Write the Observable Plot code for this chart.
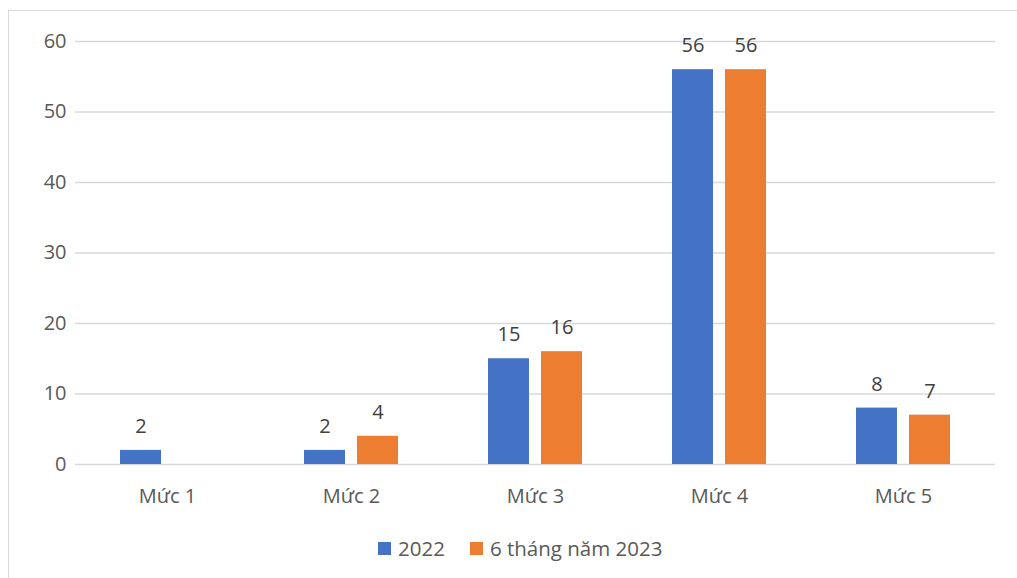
<!DOCTYPE html>
<html><head><meta charset="utf-8">
<script src="https://cdn.jsdelivr.net/npm/d3@7"></script>
<script src="https://cdn.jsdelivr.net/npm/@observablehq/plot@0.6"></script>
<style>
body{margin:0;background:#fff;font-family:"Open Sans",sans-serif;}
#wrap{position:relative;width:1017px;height:578px;overflow:hidden;}
#frame{position:absolute;left:8px;top:10px;width:1100px;height:700px;border:1.5px solid #d9d9d9;}
#chart{position:absolute;left:0;top:0;}
#legend{position:absolute;top:534px;left:378px;display:flex;align-items:center;font-size:20.5px;color:#595959;white-space:nowrap;}
.sw{display:inline-block;width:13px;height:13px;margin-right:7px;}
.item{display:flex;align-items:center;margin-right:25px;}
</style></head>
<body>
<div id="wrap"><div id="frame"></div><div id="chart"></div><div id="legend"></div></div>
<script>
const categories = ["Mức 1", "Mức 2", "Mức 3", "Mức 4", "Mức 5"];
const series = ["2022", "6 tháng năm 2023"];
const values2022 = [2, 2, 15, 56, 8];
const values2023 = [null, 4, 16, 56, 7];
const yTicks = [0, 10, 20, 30, 40, 50, 60];
const colors = ["#4472C4", "#ED7D31"];

const data = [];
categories.forEach((c, i) => {
  data.push({cat: c, series: series[0], value: values2022[i]});
  data.push({cat: c, series: series[1], value: values2023[i]});
});

const chart = Plot.plot({
  width: 1017, height: 520,
  marginLeft: 73, marginRight: 20, marginTop: 41, marginBottom: 56,
  style: {fontFamily: '"Open Sans", sans-serif', fontSize: "20px", color: "#595959", background: "transparent"},
  fx: {domain: categories, padding: 0, label: null, tickSize: 0, tickPadding: 24, axis: "bottom"},
  x: {domain: series, paddingInner: 0.22, paddingOuter: 0.821, axis: null},
  y: {domain: [0, 60], ticks: yTicks, label: null, tickSize: 0, tickPadding: 9},
  color: {domain: series, range: colors},
  marks: [
    Plot.ruleY(yTicks, {stroke: "#d9d9d9", strokeWidth: 1.5}),
    Plot.barY(data.filter(d => d.value != null), {fx: "cat", x: "series", y: "value", fill: "series"}),
    Plot.text(data.filter(d => d.value != null), {fx: "cat", x: "series", y: "value", text: "value", dy: -24, fill: "#404040", fontSize: 20})
  ]
});
document.getElementById("chart").appendChild(chart);

const legend = document.getElementById("legend");
series.forEach((s, i) => {
  const it = document.createElement("div");
  it.className = "item";
  it.innerHTML = `<span class="sw" style="background:${colors[i]}"></span><span>${s}</span>`;
  legend.appendChild(it);
});
</script>
</body></html>
